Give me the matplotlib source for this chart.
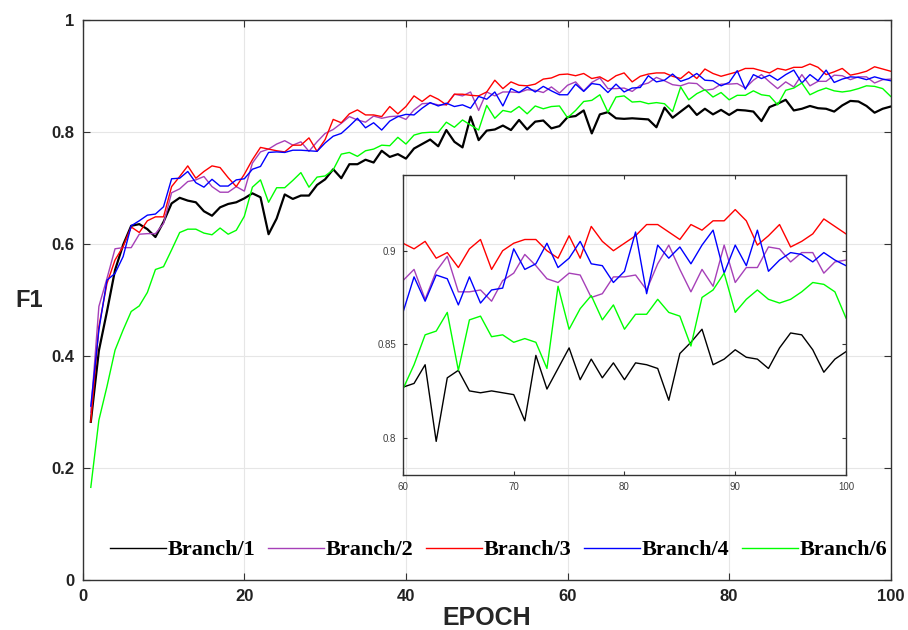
import numpy as np
import matplotlib
matplotlib.use("Agg")
import matplotlib.pyplot as plt

epochs = np.arange(1, 101)

branch1 = [0.283, 0.410, 0.480, 0.554, 0.599, 0.633, 0.636, 0.627, 0.613, 0.640,
           0.673, 0.683, 0.678, 0.675, 0.659, 0.651, 0.666, 0.672, 0.675, 0.682,
           0.691, 0.684, 0.618, 0.646, 0.689, 0.681, 0.687, 0.687, 0.706, 0.716,
           0.734, 0.718, 0.743, 0.743, 0.751, 0.746, 0.767, 0.756, 0.761, 0.753,
           0.771, 0.779, 0.787, 0.775, 0.804, 0.783, 0.773, 0.828, 0.786, 0.803,
           0.805, 0.812, 0.804, 0.822, 0.805, 0.819, 0.821, 0.807, 0.811, 0.827,
           0.829, 0.839, 0.798, 0.832, 0.836, 0.825, 0.824, 0.825, 0.824, 0.823,
           0.809, 0.844, 0.826, 0.837, 0.848, 0.831, 0.842, 0.832, 0.840, 0.831,
           0.840, 0.839, 0.837, 0.820, 0.845, 0.851, 0.858, 0.839, 0.842, 0.847,
           0.843, 0.842, 0.837, 0.848, 0.856, 0.855, 0.847, 0.835, 0.842, 0.846]

branch2 = [0.300, 0.489, 0.539, 0.592, 0.594, 0.594, 0.618, 0.619, 0.619, 0.637,
           0.692, 0.699, 0.712, 0.715, 0.721, 0.703, 0.693, 0.693, 0.703, 0.695,
           0.745, 0.765, 0.770, 0.779, 0.785, 0.777, 0.783, 0.766, 0.783, 0.798,
           0.805, 0.816, 0.828, 0.822, 0.818, 0.829, 0.825, 0.828, 0.829, 0.823,
           0.840, 0.851, 0.852, 0.849, 0.849, 0.868, 0.865, 0.872, 0.839, 0.872,
           0.865, 0.872, 0.872, 0.871, 0.876, 0.875, 0.871, 0.881, 0.870, 0.884,
           0.890, 0.874, 0.889, 0.897, 0.878, 0.878, 0.879, 0.873, 0.884, 0.888,
           0.898, 0.892, 0.885, 0.883, 0.888, 0.887, 0.875, 0.877, 0.886, 0.886,
           0.887, 0.879, 0.893, 0.903, 0.890, 0.878, 0.890, 0.881, 0.903, 0.883,
           0.891, 0.891, 0.902, 0.901, 0.894, 0.899, 0.899, 0.888, 0.894, 0.895]

branch3 = [0.283, 0.453, 0.530, 0.572, 0.596, 0.631, 0.621, 0.642, 0.649, 0.649,
           0.703, 0.721, 0.740, 0.718, 0.730, 0.740, 0.737, 0.719, 0.703, 0.725,
           0.751, 0.773, 0.770, 0.767, 0.765, 0.777, 0.777, 0.790, 0.766, 0.787,
           0.823, 0.817, 0.833, 0.840, 0.831, 0.831, 0.828, 0.846, 0.833, 0.846,
           0.865, 0.855, 0.866, 0.859, 0.849, 0.868, 0.868, 0.866, 0.865, 0.872,
           0.893, 0.878, 0.890, 0.884, 0.883, 0.886, 0.895, 0.897, 0.903, 0.904,
           0.901, 0.905, 0.896, 0.899, 0.891, 0.901, 0.906, 0.890, 0.900, 0.904,
           0.906, 0.906, 0.900, 0.896, 0.908, 0.896, 0.913, 0.905, 0.900, 0.904,
           0.908, 0.914, 0.914, 0.910, 0.906, 0.914, 0.911, 0.916, 0.916, 0.922,
           0.916, 0.903, 0.908, 0.914, 0.902, 0.905, 0.909, 0.917, 0.913, 0.909]

branch4 = [0.311, 0.447, 0.536, 0.548, 0.578, 0.633, 0.642, 0.652, 0.654, 0.667,
           0.717, 0.718, 0.730, 0.710, 0.702, 0.716, 0.704, 0.704, 0.715, 0.717,
           0.734, 0.739, 0.764, 0.765, 0.764, 0.768, 0.768, 0.767, 0.766, 0.781,
           0.793, 0.798, 0.811, 0.825, 0.808, 0.817, 0.804, 0.820, 0.828, 0.832,
           0.831, 0.843, 0.853, 0.847, 0.852, 0.846, 0.849, 0.843, 0.864, 0.859,
           0.872, 0.847, 0.878, 0.871, 0.881, 0.872, 0.882, 0.874, 0.867, 0.867,
           0.886, 0.873, 0.887, 0.885, 0.871, 0.886, 0.872, 0.879, 0.880, 0.901,
           0.890, 0.893, 0.904, 0.891, 0.896, 0.905, 0.893, 0.892, 0.883, 0.889,
           0.910, 0.877, 0.903, 0.896, 0.902, 0.893, 0.903, 0.911, 0.888, 0.903,
           0.892, 0.911, 0.889, 0.895, 0.899, 0.898, 0.894, 0.899, 0.895, 0.892]

branch6 = [0.166, 0.286, 0.346, 0.411, 0.447, 0.480, 0.490, 0.514, 0.555, 0.560,
           0.590, 0.621, 0.627, 0.627, 0.620, 0.617, 0.629, 0.618, 0.625, 0.650,
           0.702, 0.715, 0.675, 0.701, 0.701, 0.714, 0.728, 0.702, 0.720, 0.722,
           0.733, 0.761, 0.764, 0.757, 0.767, 0.770, 0.777, 0.776, 0.791, 0.779,
           0.795, 0.799, 0.800, 0.800, 0.818, 0.809, 0.822, 0.813, 0.804, 0.848,
           0.825, 0.839, 0.836, 0.846, 0.833, 0.847, 0.842, 0.846, 0.847, 0.826,
           0.839, 0.855, 0.857, 0.867, 0.836, 0.863, 0.865, 0.854, 0.855, 0.851,
           0.853, 0.851, 0.837, 0.881, 0.858, 0.869, 0.876, 0.863, 0.871, 0.858,
           0.866, 0.866, 0.874, 0.867, 0.865, 0.849, 0.875, 0.879, 0.888, 0.867,
           0.874, 0.879, 0.874, 0.872, 0.874, 0.878, 0.883, 0.882, 0.878, 0.864]

labels = ["Branch/1", "Branch/2", "Branch/3", "Branch/4", "Branch/6"]
series = [branch1, branch2, branch3, branch4, branch6]
colors = ["#000000", "#A640B8", "#FF0000", "#0000FF", "#00FF00"]
widths = [1.6, 1.0, 1.0, 1.0, 1.0]

sans = ["Liberation Sans", "DejaVu Sans"]
serif = ["Liberation Serif", "DejaVu Serif"]
edge = "#333333"

fig = plt.figure(figsize=(9.08, 6.30), dpi=100)
ax = fig.add_axes([0.0911, 0.0789, 0.8899, 0.8889])

for y, c, lw, lab in zip(series, colors, widths, labels):
    ax.plot(epochs, y, color=c, lw=lw, label=lab)

ax.set_xlim(0, 100)
ax.set_ylim(0, 1)
ax.set_xticks([0, 20, 40, 60, 80, 100])
ax.set_yticks([0, 0.2, 0.4, 0.6, 0.8, 1])
ax.set_yticklabels(["0", "0.2", "0.4", "0.6", "0.8", "1"])
ax.grid(True, color="#e6e6e6", lw=0.8)
ax.set_axisbelow(True)
ax.tick_params(direction="in", top=True, right=True, length=5, width=0.8,
               color=edge, labelsize=12, pad=6)
for t in ax.get_xticklabels() + ax.get_yticklabels():
    t.set_fontfamily(sans)
    t.set_fontweight("bold")
    t.set_color("#222222")
for s in ax.spines.values():
    s.set_color(edge)
    s.set_linewidth(1.0)

ax.set_xlabel("EPOCH", fontsize=18, fontweight="bold", family=sans,
              color="#262626", labelpad=2)
ax.set_ylabel("F1", fontsize=17, fontweight="bold", family=sans,
              color="#262626", rotation=0, labelpad=16, va="center")

leg = ax.legend(loc="lower center", bbox_to_anchor=(0.515, 0.0), ncol=5,
                frameon=False, handlelength=2.5, handletextpad=0.1,
                columnspacing=0.56,
                prop={"family": serif, "weight": "bold", "size": 16})
for h in leg.get_lines():
    h.set_linewidth(1.0)

# zoomed inset, transparent so the main grid shows through
ins = fig.add_axes([0.4438, 0.246, 0.4879, 0.4762])
ins.set_facecolor("none")
for y, c in zip(series, colors):
    ins.plot(epochs[59:], y[59:], color=c, lw=1.0)
ins.set_xlim(60, 100)
ins.set_ylim(0.78, 0.9405)
ins.set_xticks([60, 70, 80, 90, 100])
ins.set_yticks([0.8, 0.85, 0.9])
ins.set_yticklabels(["0.8", "0.85", "0.9"])
ins.tick_params(direction="in", top=True, right=True, length=3, width=0.8,
                color=edge, labelsize=7, labelcolor="#404040", pad=5)
for t in ins.get_xticklabels() + ins.get_yticklabels():
    t.set_fontfamily(sans)
for s in ins.spines.values():
    s.set_color(edge)
    s.set_linewidth(1.0)

fig.savefig("out.png", dpi=100)
